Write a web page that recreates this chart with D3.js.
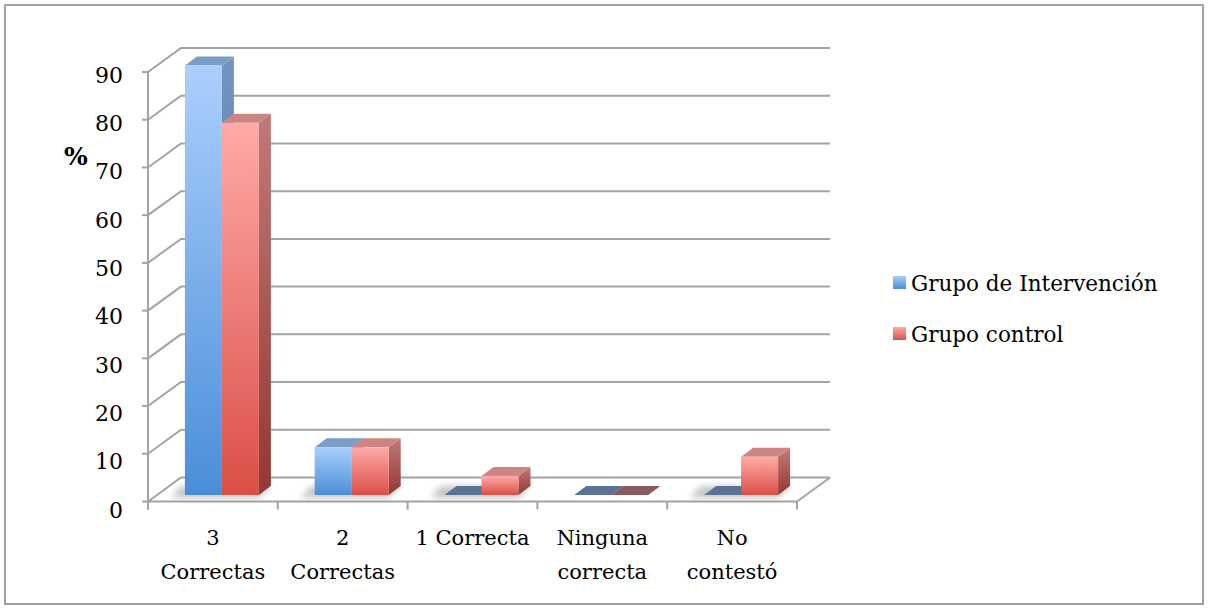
<!DOCTYPE html>
<html>
<head>
<meta charset="utf-8">
<script src="https://cdn.jsdelivr.net/npm/d3@7"></script>
<style>
  html, body { margin: 0; padding: 0; background: #fff; }
  svg { display: block; }
  text { font-family: "DejaVu Serif", serif; fill: #000; }
</style>
</head>
<body>
<script>
// Categories (each label may wrap onto two lines)
const categories = ["3 Correctas", "2 Correctas", "1 Correcta", "Ninguna correcta", "No contestó"];
const categoryLines = [["3", "Correctas"], ["2", "Correctas"], ["1 Correcta"], ["Ninguna", "correcta"], ["No", "contestó"]];
// Percentages per group
const intervencion = [90, 10, 0, 0, 0];
const control = [78, 10, 4, 0, 8];
const seriesNames = ["Grupo de Intervención", "Grupo control"];
const yTicks = [0, 10, 20, 30, 40, 50, 60, 70, 80, 90];

const W = 1208, H = 609;
const svg = d3.select("body").append("svg").attr("width", W).attr("height", H);

// Outer frame
svg.append("rect").attr("x", 5).attr("y", 5).attr("width", W - 10).attr("height", H - 10)
  .attr("fill", "#fff").attr("stroke", "#a0a0a0").attr("stroke-width", 2);

// Front plane scales and the depth offset of the back wall
const x = d3.scaleBand().domain(categories).range([148, 797]).padding(0);
const y = d3.scaleLinear().domain([0, 90]).range([501.5, 72]);
// tick labels sit on a slightly taller span than the front edge of the walls
const yLabel = d3.scaleLinear().domain([0, 90]).range([510, 75]);
const DX = 33, DY = -24;          // front -> back wall
const BX = 9, BY = -6.5;          // front plane -> bar front face
const DDX = 12, DDY = -9;         // bar depth
const barW = 37;

const defs = svg.append("defs");
function grad(id, c0, c1) {
  const g = defs.append("linearGradient").attr("id", id).attr("x1", 0).attr("y1", 0).attr("x2", 0).attr("y2", 1);
  g.append("stop").attr("offset", "0%").attr("stop-color", c0);
  g.append("stop").attr("offset", "100%").attr("stop-color", c1);
}
grad("blueFront", "#abcffd", "#4a8ed8");
grad("blueSide", "#7495c0", "#46699a");
grad("redFront", "#ffaaa7", "#da4f47");
grad("redSide", "#c07a78", "#943733");
grad("legBlue", "#a9cdfc", "#4a8ed8");
grad("legRed", "#ffaaa7", "#da4f47");
defs.append("filter").attr("id", "soft").attr("x", "-50%").attr("y", "-50%").attr("width", "200%").attr("height", "200%")
  .append("feGaussianBlur").attr("stdDeviation", 3);

const gridColor = "#a3a3a3";
const grid = svg.append("g").attr("stroke", gridColor).attr("stroke-width", 2).attr("fill", "none");

// Back wall and left wall gridlines
yTicks.forEach(t => {
  const yy = y(t);
  grid.append("path").attr("d", `M${x.range()[0]},${yy} L${x.range()[0] + DX},${yy + DY} L${x.range()[1] + DX},${yy + DY}`);
  grid.append("line").attr("x1", x.range()[0] - 6).attr("x2", x.range()[0]).attr("y1", yy).attr("y2", yy);
});
// Floor outline
grid.append("path").attr("d",
  `M${x.range()[0]},${y(0)} L${x.range()[1]},${y(0)} L${x.range()[1] + DX},${y(0) + DY}`);
// Vertical axis
grid.append("line").attr("x1", x.range()[0]).attr("x2", x.range()[0]).attr("y1", y(90)).attr("y2", y(0) + 8);
// Category ticks
const tickXs = categories.map(c => x(c)).concat([x.range()[1]]);
tickXs.forEach(tx => {
  grid.append("line").attr("x1", tx).attr("x2", tx).attr("y1", y(0)).attr("y2", y(0) + 8);
});

// Bars
const bars = svg.append("g");
const series = [
  { values: intervencion, front: "url(#blueFront)", top: "#7b9dca", side: "url(#blueSide)", flat: "#5a7296", off: 0 },
  { values: control, front: "url(#redFront)", top: "#cd8583", side: "url(#redSide)", flat: "#8a5b5b", off: 1 }
];

// Soft floor shadows under each bar group
categories.forEach((c, i) => {
  const any = series.some(s => s.values[i] > 0);
  if (!any) return;
  const x0 = x(c) + x.bandwidth() / 2 - barW + BX;
  const yb = y(0) + BY;
  bars.append("path")
    .attr("d", `M${x0 - 14},${yb + 3} L${x0 + 2 * barW},${yb + 3} L${x0 + 2 * barW + DDX},${yb + DDY} L${x0 - 4},${yb + DDY}Z`)
    .attr("fill", "#9a9a9a").attr("opacity", 0.55).attr("filter", "url(#soft)");
});

categories.forEach((c, i) => {
  series.forEach(s => {
    const v = s.values[i];
    const x0 = x(c) + x.bandwidth() / 2 - barW + BX + s.off * barW;
    const yb = y(0) + BY;
    const yt = y(v) + BY;
    const g = bars.append("g");
    if (v === 0) {
      g.append("path")
        .attr("d", `M${x0},${yb} L${x0 + barW},${yb} L${x0 + barW + DDX},${yb + DDY} L${x0 + DDX},${yb + DDY}Z`)
        .attr("fill", s.flat);
      return;
    }
    // side face
    g.append("path")
      .attr("d", `M${x0 + barW},${yt} L${x0 + barW + DDX},${yt + DDY} L${x0 + barW + DDX},${yb + DDY} L${x0 + barW},${yb}Z`)
      .attr("fill", s.side);
    // top face
    g.append("path")
      .attr("d", `M${x0},${yt} L${x0 + barW},${yt} L${x0 + barW + DDX},${yt + DDY} L${x0 + DDX},${yt + DDY}Z`)
      .attr("fill", s.top);
    // front face
    g.append("rect").attr("x", x0).attr("y", yt).attr("width", barW).attr("height", yb - yt)
      .attr("fill", s.front);
  });
});

// Y axis labels
svg.append("g").selectAll("text").data(yTicks).join("text")
  .attr("x", 123).attr("y", d => yLabel(d)).attr("dy", "0.35em")
  .attr("text-anchor", "end").attr("font-size", 22).text(d => d);

svg.append("text").attr("x", 76).attr("y", 156).attr("dy", "0.35em").attr("text-anchor", "middle")
  .attr("font-size", 25).attr("font-weight", "bold").text("%");

// Category labels
const xl = svg.append("g");
categories.forEach((c, i) => {
  const t = xl.append("text").attr("text-anchor", "middle").attr("font-size", 21);
  categoryLines[i].forEach((line, k) => {
    t.append("tspan").attr("x", x(c) + x.bandwidth() / 2).attr("y", 538 + k * 34).attr("dy", "0.35em").text(line);
  });
});

// Legend
const legend = svg.append("g");
const legFills = ["url(#legBlue)", "url(#legRed)"];
seriesNames.forEach((n, i) => {
  const ly = 283 + i * 51;
  legend.append("rect").attr("x", 893).attr("y", ly - 7).attr("width", 13).attr("height", 13).attr("fill", legFills[i]);
  legend.append("text").attr("x", 911).attr("y", ly).attr("dy", "0.35em").attr("font-size", 21.5).text(n);
});
</script>
</body>
</html>
